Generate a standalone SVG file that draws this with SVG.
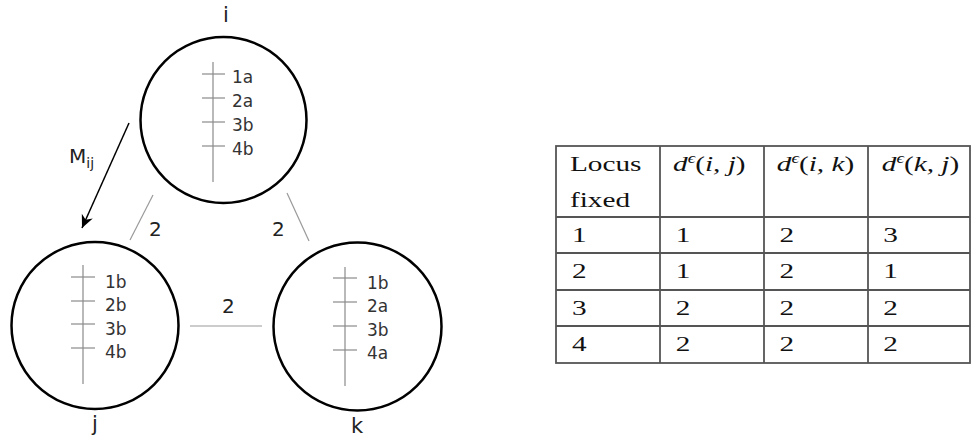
<svg xmlns="http://www.w3.org/2000/svg" width="973" height="441" viewBox="0 0 973 441">
<defs>
<style>
.node{fill:none;stroke:#000;stroke-width:2.5}
.loc{stroke:#8a8a8a;stroke-width:1.2;fill:none}
.lab{font-family:"DejaVu Sans",sans-serif;font-size:17px;fill:#333}
.name{font-family:"DejaVu Sans",sans-serif;font-size:21px;fill:#222;text-anchor:middle}
.edge{stroke:#9a9a9a;stroke-width:1.2;fill:none}
.elab{font-family:"DejaVu Sans",sans-serif;font-size:20px;fill:#222}
.grid{stroke:#555;stroke-width:1.8;fill:none}
.tt{font-family:"Liberation Serif","Times New Roman",serif;font-size:22px;fill:#111}
.mi{font-family:"Liberation Serif","Times New Roman",serif;font-style:italic;font-size:22px;fill:#111}
</style>
<marker id="ah" viewBox="-14 -7 16 14" refX="0" refY="0" markerWidth="16" markerHeight="14" markerUnits="userSpaceOnUse" orient="auto">
<path d="M0,0 L-13,-6 L-9,0 L-13,6 Z" fill="#000"/>
</marker>
</defs>
<g id="connectors">
<line class="edge" x1="153" y1="195" x2="130" y2="240"/>
<text class="elab" x="149" y="236">2</text>
<line class="edge" x1="287" y1="193" x2="309" y2="241"/>
<text class="elab" x="272" y="236">2</text>
<line class="edge" x1="190" y1="326" x2="262" y2="326"/>
<text class="elab" x="222" y="313">2</text>
<line x1="129" y1="123" x2="82" y2="228" stroke="#000" stroke-width="1.5" marker-end="url(#ah)"/>
<text class="elab" x="69" y="163" font-size="22">M<tspan font-size="14" dy="5">ij</tspan></text>
</g>
<g id="node-i">
<circle class="node" cx="223.5" cy="120" r="83"/>
<text class="name" x="226" y="22">i</text>
<line class="loc" x1="213" y1="62" x2="213" y2="182"/>
<line class="loc" x1="202" y1="74" x2="225" y2="74"/>
<line class="loc" x1="202" y1="98" x2="225" y2="98"/>
<line class="loc" x1="202" y1="122" x2="225" y2="122"/>
<line class="loc" x1="202" y1="146" x2="225" y2="146"/>
<text class="lab" x="232" y="83">1a</text>
<text class="lab" x="232" y="107">2a</text>
<text class="lab" x="232" y="131">3b</text>
<text class="lab" x="232" y="155">4b</text>
</g>
<g id="node-j">
<circle class="node" cx="95" cy="325.5" r="83.5"/>
<text class="name" x="95" y="431">j</text>
<line class="loc" x1="83" y1="265" x2="83" y2="384"/>
<line class="loc" x1="71" y1="277" x2="95" y2="277"/>
<line class="loc" x1="71" y1="301" x2="95" y2="301"/>
<line class="loc" x1="71" y1="324" x2="95" y2="324"/>
<line class="loc" x1="71" y1="348" x2="95" y2="348"/>
<text class="lab" x="105" y="288">1b</text>
<text class="lab" x="105" y="311">2b</text>
<text class="lab" x="105" y="335">3b</text>
<text class="lab" x="105" y="358">4b</text>
</g>
<g id="node-k">
<circle class="node" cx="357.5" cy="326.5" r="84"/>
<text class="name" x="357" y="433">k</text>
<line class="loc" x1="345" y1="267" x2="345" y2="386"/>
<line class="loc" x1="333" y1="278" x2="357" y2="278"/>
<line class="loc" x1="333" y1="302" x2="357" y2="302"/>
<line class="loc" x1="333" y1="326" x2="357" y2="326"/>
<line class="loc" x1="333" y1="350" x2="357" y2="350"/>
<text class="lab" x="367" y="289">1b</text>
<text class="lab" x="367" y="312">2a</text>
<text class="lab" x="367" y="336">3b</text>
<text class="lab" x="367" y="359">4a</text>
</g>
<g id="table">
<rect class="grid" x="556" y="146" width="414" height="217"/>
<line class="grid" x1="660" y1="146" x2="660" y2="363"/>
<line class="grid" x1="764" y1="146" x2="764" y2="363"/>
<line class="grid" x1="868" y1="146" x2="868" y2="363"/>
<line class="grid" x1="556" y1="217" x2="970" y2="217"/>
<line class="grid" x1="556" y1="253" x2="970" y2="253"/>
<line class="grid" x1="556" y1="290" x2="970" y2="290"/>
<line class="grid" x1="556" y1="326" x2="970" y2="326"/>
<g transform="translate(556,0) scale(1.33,1)">
<text class="tt" x="10.5" y="171">Locus</text>
<text class="tt" x="10.5" y="207">fixed</text>
<text class="mi" x="88" y="171">d<tspan font-size="14" dy="-8">ϵ</tspan><tspan font-style="normal" dy="8">(</tspan>i, j<tspan font-style="normal">)</tspan></text>
<text class="mi" x="166" y="171">d<tspan font-size="14" dy="-8">ϵ</tspan><tspan font-style="normal" dy="8">(</tspan>i, k<tspan font-style="normal">)</tspan></text>
<text class="mi" x="245" y="171">d<tspan font-size="14" dy="-8">ϵ</tspan><tspan font-style="normal" dy="8">(</tspan>k, j<tspan font-style="normal">)</tspan></text>
<text class="tt" x="12" y="242">1</text>
<text class="tt" x="90" y="242">1</text>
<text class="tt" x="168" y="242">2</text>
<text class="tt" x="246" y="242">3</text>
<text class="tt" x="12" y="278">2</text>
<text class="tt" x="90" y="278">1</text>
<text class="tt" x="168" y="278">2</text>
<text class="tt" x="246" y="278">1</text>
<text class="tt" x="12" y="315">3</text>
<text class="tt" x="90" y="315">2</text>
<text class="tt" x="168" y="315">2</text>
<text class="tt" x="246" y="315">2</text>
<text class="tt" x="12" y="351">4</text>
<text class="tt" x="90" y="351">2</text>
<text class="tt" x="168" y="351">2</text>
<text class="tt" x="246" y="351">2</text>
</g>
</g>
</svg>
